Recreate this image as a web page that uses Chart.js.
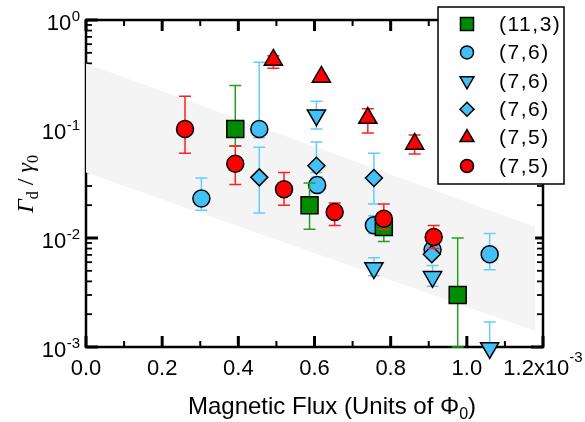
<!DOCTYPE html>
<html>
<head>
<meta charset="utf-8">
<script src="https://cdn.jsdelivr.net/npm/chart.js"></script>
<style>
  body { margin: 0; background: #fff; }
  #wrap { width: 585px; height: 422px; }
</style>
</head>
<body>
<div id="wrap"><canvas id="fluxChart" width="585" height="422"></canvas></div>
<script>
// flux in units of 1e-3 Phi_0, rate ratio Gamma_d / gamma_0
const xTickValues = [0, 0.2, 0.4, 0.6, 0.8, 1.0, 1.2];
const xMinorValues = [0.1, 0.3, 0.5, 0.7, 0.9, 1.1];
const xTickLabels = ['0.0', '0.2', '0.4', '0.6', '0.8', '1.0', '1.2x10'];
const yDecades = [1e-3, 1e-2, 1e-1, 1];
const yDecadeExp = ['-3', '-2', '-1', '0'];
const legendLabels = ['(11,3)', '(7,6)', '(7,6)', '(7,6)', '(7,5)', '(7,5)'];

// shaded band (two edges)
const bandX = [0, 1.18];
const bandTop = [0.40, 0.0126];
const bandBottom = [0.040, 0.0014];

// (11,3) squares
const sqX = [0.392, 0.587, 0.782, 0.976];
const sqY = [0.10, 0.020, 0.0126, 0.0030];
const sqLo = [0.070, 0.012, 0.0093, 0.001];
const sqHi = [0.25, 0.032, 0.016, 0.010];

// (7,6) circles
const bcX = [0.303, 0.455, 0.607, 0.756, 0.910, 1.060];
const bcY = [0.023, 0.10, 0.0306, 0.0131, 0.0078, 0.0071];
const bcLo = [0.018, 0.083, 0.026, 0.011, 0.0068, 0.0051];
const bcHi = [0.0355, 0.41, 0.036, 0.016, 0.009, 0.011];

// (7,6) down triangles
const btX = [0.605, 0.756, 0.910, 1.060];
const btY = [0.134, 0.0053, 0.0044, 0.00098];
const btLo = [0.10, 0.0045, 0.0036, 0.00098];
const btHi = [0.18, 0.0066, 0.0056, 0.0017];

// (7,6) diamonds
const bdX = [0.455, 0.605, 0.756, 0.908];
const bdY = [0.036, 0.046, 0.0355, 0.0071];
const bdLo = [0.017, 0.040, 0.0205, 0.0065];
const bdHi = [0.068, 0.076, 0.060, 0.0078];

// (7,5) triangles
const rtX = [0.492, 0.618, 0.740, 0.863];
const rtY = [0.43, 0.30, 0.126, 0.073];
const rtLo = [0.36, 0.29, 0.092, 0.059];
const rtHi = [0.47, 0.31, 0.153, 0.088];

// (7,5) circles
const rcX = [0.260, 0.392, 0.520, 0.653, 0.782, 0.913];
const rcY = [0.10, 0.048, 0.028, 0.0173, 0.015, 0.0102];
const rcLo = [0.060, 0.031, 0.020, 0.013, 0.012, 0.008];
const rcHi = [0.20, 0.070, 0.040, 0.021, 0.0205, 0.013];

const GREEN = '#008c00', BLUE = '#45c0f7', RED = '#ff0000';
const SANS = '"Liberation Sans", Arial, Helvetica, sans-serif';
const SERIF = '"Liberation Serif", "Times New Roman", serif';

function makePoints(xs, ys, los, his) {
    return xs.map((x, i) => ({ x: x, y: ys[i], lo: los[i], hi: his[i] }));
}

function series(label, xs, ys, los, his, color, errColor, style, radius, rotation, order) {
    return {
        label: label,
        data: makePoints(xs, ys, los, his),
        backgroundColor: color,
        borderColor: '#000',
        borderWidth: 1.5,
        pointStyle: style,
        pointRadius: radius,
        rotation: rotation,
        errColor: errColor,
        clip: false,
        order: order
    };
}

const markerSeries = [
    series('(11,3)', sqX, sqY, sqLo, sqHi, GREEN, '#22a022', 'rect', 12, 0, 3),
    series('(7,6)', bcX, bcY, bcLo, bcHi, BLUE, '#66ccff', 'circle', 8.5, 0, 6),
    series('(7,6)', btX, btY, btLo, btHi, BLUE, '#66ccff', 'triangle', 10.5, 180, 5),
    series('(7,6)', bdX, bdY, bdLo, bdHi, BLUE, '#66ccff', 'rectRot', 8.5, 0, 4),
    series('(7,5)', rtX, rtY, rtLo, rtHi, RED, '#ff2020', 'triangle', 10.5, 0, 2),
    series('(7,5)', rcX, rcY, rcLo, rcHi, RED, '#ff2020', 'circle', 8.5, 0, 1)
];

// legend marker sizes (smaller than in the plot)
const legendRadius = [9.2, 6.5, 8, 7, 8, 6.5];

function bandLine(ys, fill) {
    return {
        type: 'line',
        data: bandX.map((x, i) => ({ x: x, y: ys[i] })),
        borderWidth: 0,
        borderColor: 'rgba(0,0,0,0)',
        backgroundColor: '#f4f4f4',
        pointRadius: 0,
        fill: fill,
        order: 10
    };
}

function drawFrame(chart) {
    const ctx = chart.ctx, a = chart.chartArea;
    const xs = chart.scales.x, ys = chart.scales.y;
    ctx.save();
    ctx.strokeStyle = '#000';
    ctx.lineCap = 'butt';
    ctx.lineWidth = 2.5;
    ctx.strokeRect(a.left, a.top, a.right - a.left, a.bottom - a.top);

    function tick(x1, y1, x2, y2, w) {
        ctx.lineWidth = w;
        ctx.beginPath();
        ctx.moveTo(x1, y1);
        ctx.lineTo(x2, y2);
        ctx.stroke();
    }
    xTickValues.forEach(v => {
        const px = xs.getPixelForValue(v);
        tick(px, a.bottom, px, a.bottom - 11, 3);
        tick(px, a.top, px, a.top + 11, 3);
    });
    xMinorValues.forEach(v => {
        const px = xs.getPixelForValue(v);
        tick(px, a.bottom, px, a.bottom - 6, 2);
        tick(px, a.top, px, a.top + 6, 2);
    });
    yDecades.forEach((d, k) => {
        const py = ys.getPixelForValue(d);
        tick(a.left, py, a.left + 12, py, 3);
        tick(a.right, py, a.right - 12, py, 3);
        if (k < yDecades.length - 1) {
            for (let m = 2; m <= 9; m++) {
                const pm = ys.getPixelForValue(d * m);
                tick(a.left, pm, a.left + 6, pm, 1.8);
                tick(a.right, pm, a.right - 6, pm, 1.8);
            }
        }
    });
    ctx.restore();
}

function drawErrors(chart, index) {
    const ds = chart.data.datasets[index];
    if (!ds.errColor) return;
    const ctx = chart.ctx, xs = chart.scales.x, ys = chart.scales.y;
    ctx.save();
    ctx.strokeStyle = ds.errColor;
    ctx.lineWidth = 1.5;
    ds.data.forEach(p => {
        const px = xs.getPixelForValue(p.x);
        const top = ys.getPixelForValue(p.hi);
        const bot = ys.getPixelForValue(p.lo);
        ctx.beginPath();
        ctx.moveTo(px, top);
        ctx.lineTo(px, bot);
        ctx.moveTo(px - 6, top);
        ctx.lineTo(px + 6, top);
        ctx.moveTo(px - 6, bot);
        ctx.lineTo(px + 6, bot);
        ctx.stroke();
    });
    ctx.restore();
}

function drawLabels(chart) {
    const ctx = chart.ctx, a = chart.chartArea;
    const xs = chart.scales.x, ys = chart.scales.y;
    ctx.save();
    ctx.fillStyle = '#000';
    ctx.textBaseline = 'alphabetic';

    // x tick labels
    xTickValues.forEach((v, i) => {
        const px = xs.getPixelForValue(v);
        ctx.font = '22px ' + SANS;
        const label = xTickLabels[i];
        if (i === xTickValues.length - 1) {
            const w1 = ctx.measureText(label).width;
            ctx.font = '15px ' + SANS;
            const w2 = ctx.measureText('-3').width;
            const start = px - (w1 + w2) / 2;
            ctx.textAlign = 'left';
            ctx.font = '22px ' + SANS;
            ctx.fillText(label, start, 375);
            ctx.font = '15px ' + SANS;
            ctx.fillText('-3', start + w1, 362);
        } else {
            ctx.textAlign = 'center';
            ctx.fillText(label, px, 375);
        }
    });

    // y decade labels
    yDecades.forEach((d, k) => {
        const py = ys.getPixelForValue(d);
        ctx.font = '15px ' + SANS;
        const wSup = ctx.measureText(yDecadeExp[k]).width;
        ctx.textAlign = 'right';
        ctx.fillText(yDecadeExp[k], 80, py + 1);
        ctx.font = '22px ' + SANS;
        ctx.fillText('10', 80 - wSup - 0.5, py + 10);
    });

    // x title
    ctx.textAlign = 'left';
    ctx.font = '24px ' + SANS;
    const t1 = 'Magnetic Flux (Units of \u03A6';
    const w1 = ctx.measureText(t1).width;
    ctx.font = '16px ' + SANS;
    const w0 = ctx.measureText('0').width;
    ctx.font = '24px ' + SANS;
    const wp = ctx.measureText(')').width;
    let start = 332 - (w1 + w0 + wp) / 2;
    ctx.fillText(t1, start, 414);
    ctx.font = '16px ' + SANS;
    ctx.fillText('0', start + w1, 419);
    ctx.font = '24px ' + SANS;
    ctx.fillText(')', start + w1 + w0, 414);

    // y title, rotated
    ctx.translate(33, 184);
    ctx.rotate(-Math.PI / 2);
    const parts = [
        { t: '\u0393', f: 'italic 24px ' + SERIF, dy: 0 },
        { t: 'd', f: '16px ' + SERIF, dy: 5 },
        { t: ' / ', f: '24px ' + SERIF, dy: 0 },
        { t: '\u03B3', f: 'italic 24px ' + SERIF, dy: 0 },
        { t: '0', f: '16px ' + SERIF, dy: 5 }
    ];
    let total = 0;
    parts.forEach(p => { ctx.font = p.f; p.w = ctx.measureText(p.t).width; total += p.w; });
    let x = -total / 2;
    parts.forEach(p => {
        ctx.font = p.f;
        ctx.fillText(p.t, x, p.dy);
        x += p.w;
    });
    ctx.restore();
}

function drawLegend(chart) {
    const ctx = chart.ctx;
    ctx.save();
    ctx.fillStyle = '#fff';
    ctx.fillRect(438, 7, 126, 177);
    ctx.strokeStyle = '#000';
    ctx.lineWidth = 1.5;
    ctx.strokeRect(438, 7, 126, 177);

    markerSeries.forEach((s, i) => {
        const y = 24 + i * 28.4;
        ctx.fillStyle = s.backgroundColor;
        ctx.strokeStyle = '#000';
        ctx.lineWidth = 1.5;
        Chart.helpers.drawPoint(ctx, {
            pointStyle: s.pointStyle,
            radius: legendRadius[i],
            rotation: s.rotation,
            borderWidth: 1.5
        }, 467, y);
        ctx.fillStyle = '#000';
        ctx.font = '21px ' + SANS;
        ctx.letterSpacing = '1.5px';
        ctx.textAlign = 'left';
        ctx.textBaseline = 'middle';
        ctx.fillText(legendLabels[i], 499, y + 1);
        ctx.letterSpacing = '0px';
    });
    ctx.restore();
}

const decorPlugin = {
    id: 'decor',
    beforeDatasetsDraw(chart) { drawFrame(chart); },
    beforeDatasetDraw(chart, args) { drawErrors(chart, args.index); },
    afterDraw(chart) {
        drawLabels(chart);
        drawLegend(chart);
    }
};

const ctx = document.getElementById('fluxChart').getContext('2d');
new Chart(ctx, {
    type: 'scatter',
    data: {
        datasets: [bandLine(bandTop, '+1'), bandLine(bandBottom, false)].concat(markerSeries)
    },
    options: {
        responsive: false,
        animation: false,
        layout: { padding: { left: 86, right: 42, top: 20, bottom: 75 } },
        scales: {
            x: { type: 'linear', min: 0, max: 1.2, display: false },
            y: { type: 'logarithmic', min: 1e-3, max: 1, display: false }
        },
        plugins: {
            legend: { display: false },
            tooltip: { enabled: false }
        }
    },
    plugins: [decorPlugin]
});
</script>
</body>
</html>
